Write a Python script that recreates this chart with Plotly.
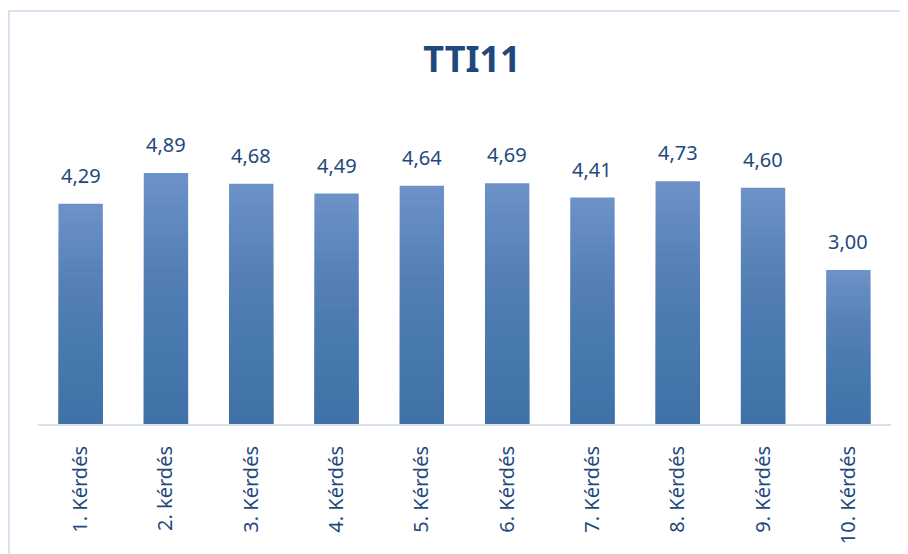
import plotly.graph_objects as go

# chart data
categories = ["1. Kérdés", "2. kérdés", "3. Kérdés", "4. Kérdés", "5. Kérdés",
              "6. Kérdés", "7. Kérdés", "8. Kérdés", "9. Kérdés", "10. Kérdés"]
values = [4.29, 4.89, 4.68, 4.49, 4.64, 4.69, 4.41, 4.73, 4.60, 3.00]

TEXT_COLOR = "#1F497D"
FONT = "'Noto Sans', 'Open Sans', sans-serif"

fig = go.Figure()

# base bar in the light top colour
fig.add_trace(go.Bar(
    x=categories,
    y=values,
    marker=dict(color="#6C91C7", line=dict(width=0)),
    hoverinfo="skip",
))

# thin translucent layers getting shorter toward the top -> vertical gradient
n_layers = 24
for k in range(1, n_layers):
    frac = 1 - k / n_layers
    fig.add_trace(go.Bar(
        x=categories,
        y=[v * frac for v in values],
        marker=dict(color="rgba(47,102,172,0.055)", line=dict(width=0)),
        hoverinfo="skip",
    ))

# value labels, sitting a bit above each bar
labels = [dict(
    x=c, y=v, xref="x", yref="y",
    text=f"{v:.2f}".replace(".", ","),
    showarrow=False, yanchor="bottom", yshift=13,
    font=dict(size=20, color=TEXT_COLOR, family=FONT),
) for c, v in zip(categories, values)]

fig.update_layout(
    width=908,
    height=554,
    barmode="overlay",
    bargap=0.48,
    showlegend=False,
    paper_bgcolor="white",
    plot_bgcolor="white",
    margin=dict(l=30, r=25, t=108, b=138),
    font=dict(family=FONT, color=TEXT_COLOR),
    title=dict(
        text="<b>TTI11</b>",
        x=0.511, xanchor="center",
        y=0.907, yanchor="middle",
        font=dict(size=36, color=TEXT_COLOR, family=FONT),
    ),
    xaxis=dict(
        tickangle=-90,
        tickfont=dict(size=20, color=TEXT_COLOR, family=FONT),
        showline=True, linecolor="#D6E0EE", linewidth=2,
        ticks="", ticklabelstandoff=12,
        showgrid=False,
    ),
    yaxis=dict(
        range=[0, 6],
        visible=False,
        showgrid=False,
        zeroline=False,
    ),
    annotations=labels,
    shapes=[dict(
        type="rect", xref="paper", yref="paper",
        x0=-0.034, x1=1.2, y0=-1.0, y1=1.341,
        line=dict(color="#D9E2F0", width=2),
        fillcolor="rgba(0,0,0,0)", layer="below",
    )],
)

fig.write_html("out.html")
